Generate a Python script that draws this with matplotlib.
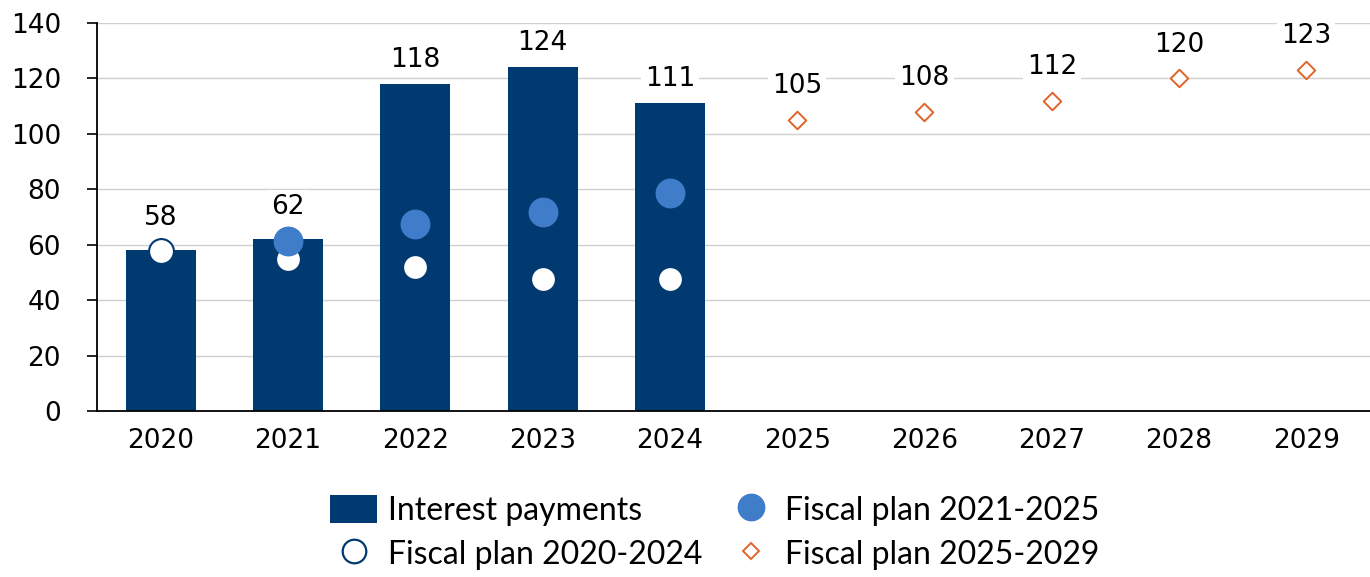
import numpy as np
import matplotlib.pyplot as plt
from matplotlib.patches import Patch
from matplotlib.lines import Line2D

plt.rcParams['font.family'] = ['DejaVu Sans']

# -- data --
years = ['2020', '2021', '2022', '2023', '2024', '2025', '2026', '2027', '2028', '2029']
interest = [58, 62, 118, 124, 111]           # 2020-2024
plan_2021 = [61.3, 67.5, 71.8, 78.7]         # 2021-2024
plan_2020 = [57.7, 54.9, 52.0, 47.6, 47.6]   # 2020-2024
plan_2025 = [105, 108, 112, 120, 123]        # 2025-2029

navy = '#003a70'
lightblue = '#3f7dca'
orange = '#e0642a'

x = np.arange(len(years))

fig = plt.figure(figsize=(13.7, 5.77), dpi=100)
ax = fig.add_axes([97 / 1370, 1 - 411 / 577, 1273 / 1370, 388 / 577])

ax.bar(x[:5], interest, width=0.55, color=navy, zorder=2)
ax.scatter(x[:5], plan_2020, s=320, facecolor='white', edgecolor=navy, linewidth=1.5, zorder=3)
ax.scatter(x[1:5], plan_2021, s=420, color=lightblue, zorder=4)
ax.scatter(x[5:], plan_2025, s=80, marker='D', facecolor='white', edgecolor=orange,
           linewidth=1.4, zorder=3)

# data labels
box = dict(boxstyle='square,pad=0.15', fc='white', ec='none')
for i, v in enumerate(interest):
    off = 14 if i < 2 else 8
    ax.annotate(str(v), (x[i], v), xytext=(0, off), textcoords='offset points',
                ha='center', va='bottom', fontsize=19, bbox=box, zorder=5)
for i, v in enumerate(plan_2025):
    ax.annotate(str(v), (x[5 + i], v), xytext=(0, 15), textcoords='offset points',
                ha='center', va='bottom', fontsize=19, bbox=box, zorder=5)

ax.set_xlim(-0.5, 9.5)
ax.set_ylim(0, 140)
ax.set_yticks(range(0, 141, 20))
ax.set_xticks(x)
ax.set_xticklabels(years)
ax.tick_params(axis='y', length=7, width=1.2, labelsize=19, pad=19)
ax.tick_params(axis='x', length=0, labelsize=19, pad=12)
ax.grid(axis='y', color='#d0d0d0', linewidth=1, zorder=0)
ax.set_axisbelow(True)
for s in ['top', 'right']:
    ax.spines[s].set_visible(False)
ax.spines['left'].set_linewidth(1.3)
ax.spines['bottom'].set_linewidth(1.3)

# legend: column-major fill -> row1: bars, 2021-2025; row2: 2020-2024, 2025-2029
handles = [
    Patch(facecolor=navy, edgecolor='none'),
    Line2D([], [], ls='none', marker='o', ms=17, mfc='white', mec=navy, mew=1.6),
    Line2D([], [], ls='none', marker='o', ms=19, mfc=lightblue, mec=lightblue),
    Line2D([], [], ls='none', marker='D', ms=8.5, mfc='white', mec=orange, mew=1.4),
]
labels = ['Interest payments', 'Fiscal plan 2020-2024',
          'Fiscal plan 2021-2025', 'Fiscal plan 2025-2029']
fig.legend(handles, labels, ncol=2, loc='lower center', bbox_to_anchor=(0.522, -0.032),
           frameon=False, prop={'family': 'Lato', 'size': 23},
           handlelength=1.45, handleheight=1.0, columnspacing=0.8,
           handletextpad=0.35, labelspacing=0.4, borderpad=0.3)

fig.savefig('out.png', dpi=100)
